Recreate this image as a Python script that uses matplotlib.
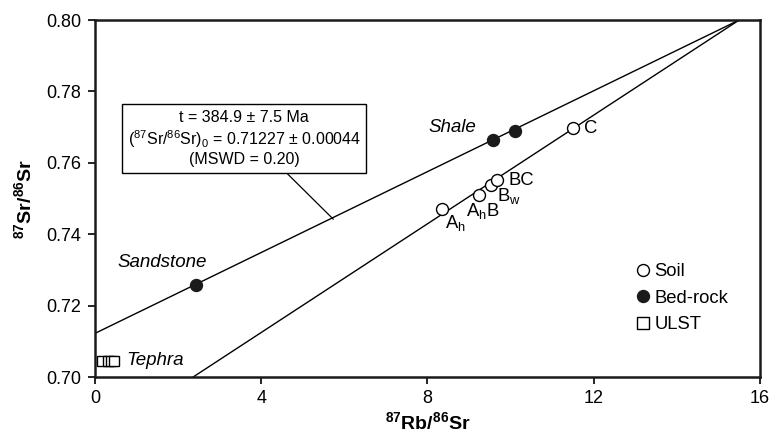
import matplotlib
matplotlib.use("Agg")
import matplotlib.pyplot as plt
from matplotlib.lines import Line2D

plt.rcParams['font.family'] = ['Liberation Sans', 'DejaVu Sans']
plt.rcParams['mathtext.fontset'] = 'custom'
plt.rcParams['mathtext.rm'] = 'Liberation Sans'
plt.rcParams['mathtext.it'] = 'Liberation Sans:italic'
plt.rcParams['mathtext.bf'] = 'Liberation Sans:bold'

# ---- data ----
soil_labels = ['A$_\\mathrm{h}$', 'A$_\\mathrm{h}$B', 'B$_\\mathrm{w}$', 'BC', 'C']
soil_rb = [8.36, 9.23, 9.54, 9.68, 11.51]
soil_sr = [0.7472, 0.7509, 0.7539, 0.7551, 0.7697]

bedrock_names = ['Sandstone', 'Shale', 'Shale']
bedrock_rb = [2.43, 9.58, 10.10]
bedrock_sr = [0.7258, 0.7665, 0.7689]

tephra_rb = [0.17, 0.31, 0.38, 0.45]
tephra_sr = [0.7047, 0.7047, 0.7047, 0.7047]

# isochron reference lines (end points)
bedrock_line_rb = [0.0, 15.5]
bedrock_line_sr = [0.7123, 0.800]
soil_line_rb = [2.35, 15.5]
soil_line_sr = [0.700, 0.800]

xticks = [0, 4, 8, 12, 16]
yticks = [0.70, 0.72, 0.74, 0.76, 0.78, 0.80]
ytick_labels = ['0.70', '0.72', '0.74', '0.76', '0.78', '0.80']

age_text = ('t = 384.9 ± 7.5 Ma\n'
            '($^{87}$Sr/$^{86}$Sr)$_0$ = 0.71227 ± 0.00044\n'
            '(MSWD = 0.20)')

# ---- figure ----
fig = plt.figure(figsize=(7.71, 4.34), dpi=100)
ax = fig.add_axes([0.1232, 0.1306, 0.8625, 0.8233])

ax.plot(bedrock_line_rb, bedrock_line_sr, color='black', lw=1.0, zorder=2)
ax.plot(soil_line_rb, soil_line_sr, color='black', lw=1.0, zorder=2)

ms = 8.6
ax.plot(soil_rb, soil_sr, 'o', ms=ms, mfc='white', mec='black', mew=1.0,
        ls='none', zorder=3)
ax.plot(bedrock_rb, bedrock_sr, 'o', ms=ms, mfc='#1a1a1a', mec='#1a1a1a',
        ls='none', zorder=3)
ax.plot(tephra_rb, tephra_sr, 's', ms=7.6, mfc='white', mec='black', mew=1.0,
        ls='none', zorder=3)

# soil labels (offsets in points)
soil_offsets = [(2, -10), (-9, -11), (4, -8), (8, 0), (8, 0)]
for lab, x, y, off in zip(soil_labels, soil_rb, soil_sr, soil_offsets):
    ax.annotate(lab, (x, y), xytext=off, textcoords='offset points',
                fontsize=13.3, ha='left', va='center')

# rock labels
ax.annotate('Sandstone', (bedrock_rb[0], bedrock_sr[0]), xytext=(-24, 16),
            textcoords='offset points', fontsize=13.5, style='italic',
            ha='center', va='center')
ax.annotate('Shale', (bedrock_rb[1], bedrock_sr[1]), xytext=(-12, 9),
            textcoords='offset points', fontsize=13.5, style='italic',
            ha='right', va='center')
ax.annotate('Tephra', (tephra_rb[-1], tephra_sr[-1]), xytext=(9, 0),
            textcoords='offset points', fontsize=13.5, style='italic',
            ha='left', va='center')

# age box with leader line
box_xy = (3.59, 0.7669)
ax.plot([4.61, 5.73], [0.7572, 0.7443], color='black', lw=0.9, zorder=2)
ax.text(box_xy[0], box_xy[1], age_text, ha='center', va='center',
        multialignment='center', fontsize=11.5, linespacing=1.2,
        bbox=dict(boxstyle='square,pad=0.35', fc='white', ec='black', lw=1.0),
        zorder=4)

# legend
handles = [
    Line2D([], [], marker='o', ls='none', ms=ms, mfc='white', mec='black', mew=1.0),
    Line2D([], [], marker='o', ls='none', ms=ms, mfc='#1a1a1a', mec='#1a1a1a'),
    Line2D([], [], marker='s', ls='none', ms=8.0, mfc='white', mec='black', mew=1.0),
]
ax.legend(handles, ['Soil', 'Bed-rock', 'ULST'], loc='upper left',
          bbox_to_anchor=(0.815, 0.32), frameon=False, fontsize=13.3,
          handlelength=0.7, handletextpad=0.25, labelspacing=0.52,
          borderpad=0.0, borderaxespad=0.0)

ax.set_xlim(0, 16)
ax.set_ylim(0.70, 0.80)
ax.set_xticks(xticks)
ax.set_yticks(yticks)
ax.set_yticklabels(ytick_labels)
ax.tick_params(direction='out', length=5, width=1.2, labelsize=13, pad=4)
ax.tick_params(axis='y', pad=5)
for s in ax.spines.values():
    s.set_linewidth(1.8)
    s.set_color('#1a1a1a')

ax.set_xlabel(r'$^{\mathbf{87}}$Rb/$^{\mathbf{86}}$Sr', fontsize=14,
              fontweight='bold', labelpad=3)
ax.set_ylabel(r'$^{\mathbf{87}}$Sr/$^{\mathbf{86}}$Sr', fontsize=14,
              fontweight='bold', labelpad=8)

fig.savefig('out.png', dpi=100)
